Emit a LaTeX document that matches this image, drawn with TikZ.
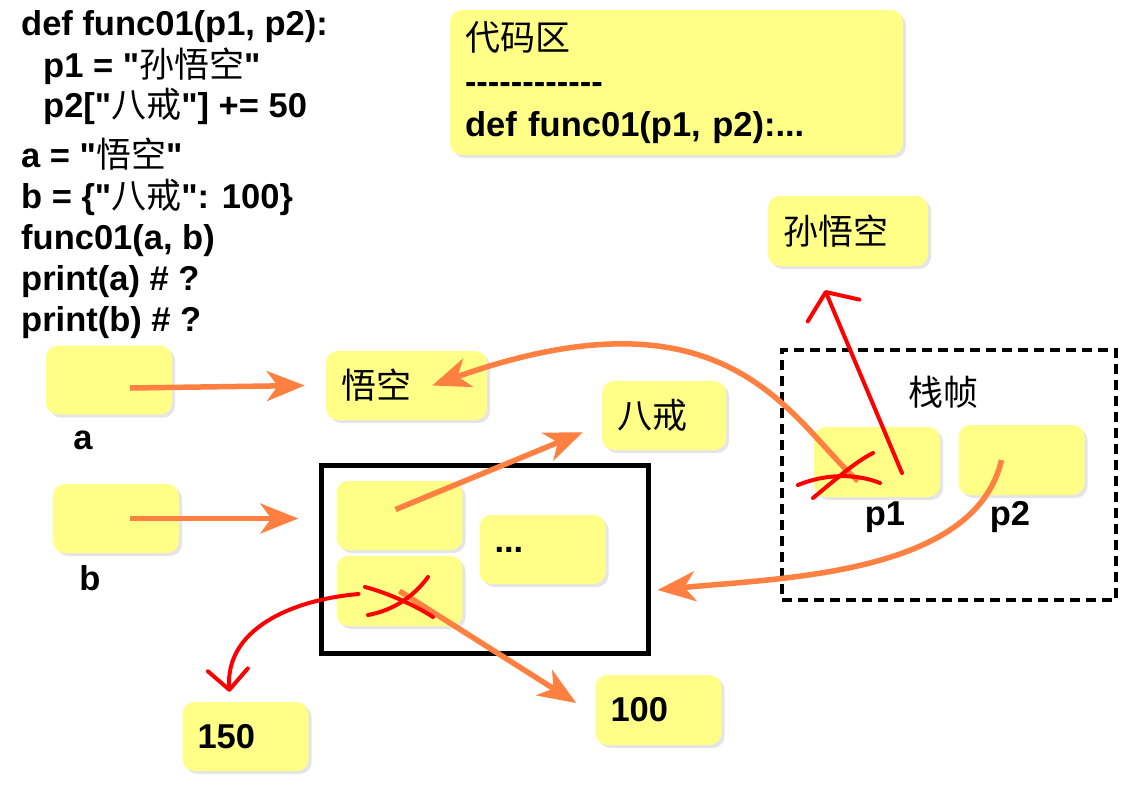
\documentclass[tikz,border=0pt]{standalone}
\usepackage{fontspec}
\setmainfont{Liberation Sans}[Ligatures=TeXOff]
\newfontfamily\cjk{Noto Sans CJK SC}
\newcommand\zh[1]{{\cjk\mdseries\fontsize{35}{43}\selectfont #1}}
\usetikzlibrary{arrows.meta,shadows}

\begin{document}
\begin{tikzpicture}[x=1pt,y=-1pt,font=\fontsize{34.5}{43}\selectfont\bfseries]
  \definecolor{memo}{HTML}{FFFF88}
  \definecolor{wire}{HTML}{FF8040}
  \definecolor{scribble}{HTML}{FF0000}
  \useasboundingbox[fill=white] (0,0) rectangle (1145,788);
  \tikzset{
    cell/.style={fill=memo,rounded corners=12pt,text width=96pt,inner xsep=15pt,inner ysep=0pt,
      minimum height=69pt,align=left,drop shadow={shadow xshift=3pt,shadow yshift=-3pt,opacity=.2}},
    code/.style={anchor=base west,inner sep=0pt},
    ptr/.style={draw=wire,line width=5.5pt,-{Stealth[length=38pt,width=30pt,inset=11pt]}},
    scrawl/.style={draw=scribble,line width=4pt,line cap=round},
  }

  \node[code] (c1) at (21,35) {def func01(p1, p2):};
  \node[code] (c2) at (43,77) {p1 = "\zh{孙悟空}"};
  \node[code] (c3) at (43,117) {p2["\zh{八戒}"] += 50};
  \node[code] (c4) at (21,167) {a = "\zh{悟空}"};
  \node[code] (c5) at (21,208) {b = \{"\zh{八戒}": 100\}};
  \node[code] (c6) at (21,249) {func01(a, b)};
  \node[code] (c7) at (21,290) {print(a) \# ?};
  \node[code] (c8) at (21,331) {print(b) \# ?};

  \node[cell,text width=423pt,minimum height=145pt] (zone) at (676.5,82.5)
    {\zh{代码区}\\------------\\def func01(p1, p2):...};
  \node[cell,text width=130pt,minimum height=70pt] (swk) at (848,231) {\zh{孙悟空}};

  % the dict object and the call's stack frame
  \node[draw,line width=5pt,minimum width=327pt,minimum height=188pt,inner sep=0pt] (dict) at (484.5,559) {};
  \node[draw,line width=4pt,dash pattern=on 10pt off 6pt,minimum width=334pt,minimum height=250pt,inner sep=0pt] (frame) at (949,475) {};

  \node[cell] (a) at (109,380) {};
  \node[cell,text width=131pt] (wk) at (406.5,385.5) {\zh{悟空}};
  \node[cell,text width=94pt] (bj) at (664,415.5) {\zh{八戒}};
  \node[cell] (b) at (116,518.5) {};
  \node[cell] (d1) at (399.5,515.5) {};
  \node[cell,minimum height=70pt] (d2) at (399.5,591) {};
  \node[cell] (dots) at (542.5,549.5) {...};
  \node[cell,minimum height=70pt] (p1) at (877,462) {};
  \node[cell,minimum height=70pt] (p2) at (1021.5,460) {};
  \node[cell] (n150) at (245.5,736.5) {150};
  \node[cell,minimum height=70pt] (n100) at (658.5,710) {100};

  \node (la) at (83,440) {a};
  \node (lb) at (90,578) {b};
  \node (lp1) at (885,517) {p1};
  \node (lp2) at (1010,517) {p2};
  \node (stk) at (943,392) {\zh{栈帧}};

  \draw[ptr] ([xshift=21pt,yshift=-8pt]a.center) -- ([xshift=-21pt]wk.west);
  \draw[ptr] ([xshift=14pt]b.center) -- ([xshift=-38pt,yshift=-3pt]d1.west);
  \draw[ptr] ([shift={(-4pt,6pt)}]d1.center) -- ([shift={(-19pt,18pt)}]bj.south west);
  \draw[ptr] (d2.center) -- ([shift={(-19pt,7pt)}]n100.west);
  \draw[ptr] ([shift={(-19pt,-19pt)}]p1.center) .. controls (790,420) and (730,280) .. ([xshift=-55pt]wk.east);
  \draw[ptr] ([xshift=-20pt]p2.center) .. controls (975,575) and (780,578) .. ([shift={(7pt,-31pt)}]dict.east);

  \draw[scrawl,-{Straight Barb[length=20pt,width=56pt,round]}] ([shift={(25pt,-11pt)}]p1.center) -- ([shift={(-23pt,-24pt)}]swk.south);
  \draw[scrawl] (798,485) .. controls (830,472) and (860,475) .. (880,483);
  \draw[scrawl] (813,498) .. controls (835,480) and (855,462) .. (873,453);
  \draw[scrawl] (365,587) .. controls (385,592) and (415,605) .. (433,617);
  \draw[scrawl] (368,615) .. controls (395,610) and (415,595) .. (428,577);
  \draw[scrawl,-{Straight Barb[length=20pt,width=40pt,round]}] ([shift={(-41pt,-3pt)}]d2.center) .. controls (290,600) and (225,630) .. ([shift={(-16pt,10pt)}]n150.north);
\end{tikzpicture}
\end{document}
